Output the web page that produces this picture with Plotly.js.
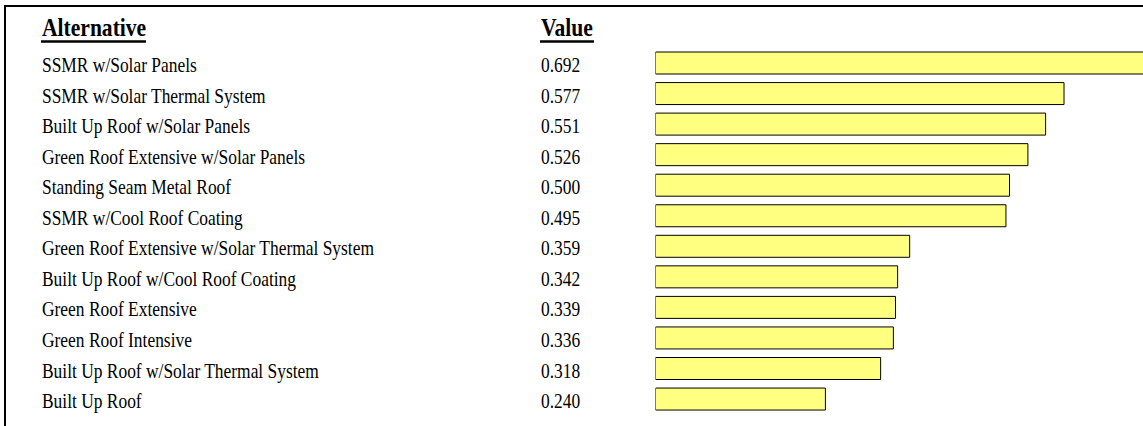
<!DOCTYPE html>
<html><head><meta charset="utf-8">
<script src="https://cdn.plot.ly/plotly-3.0.1.min.js"></script>
<style>html,body{margin:0;padding:0;background:#fff;} #chart{width:1143px;height:426px;}</style>
</head><body><div id="chart"></div>
<script>
const alternatives = [
  'SSMR w/Solar Panels',
  'SSMR w/Solar Thermal System',
  'Built Up Roof w/Solar Panels',
  'Green Roof Extensive w/Solar Panels',
  'Standing Seam Metal Roof',
  'SSMR w/Cool Roof Coating',
  'Green Roof Extensive w/Solar Thermal System',
  'Built Up Roof w/Cool Roof Coating',
  'Green Roof Extensive',
  'Green Roof Intensive',
  'Built Up Roof w/Solar Thermal System',
  'Built Up Roof'
];
const values = [0.692, 0.577, 0.551, 0.526, 0.500, 0.495, 0.359, 0.342, 0.339, 0.336, 0.318, 0.240];
const valueLabels = values.map(v => v.toFixed(3));
const headerName = 'Alternative';
const headerValue = 'Value';

const W = 1143, H = 426;
const px = x => x / W;
const py = y => 1 - y / H;
const FONT = '"Liberation Serif", "Times New Roman", Times, serif';
const rowPitch = 30.55, firstRow = 63;
const yTop = -firstRow / rowPitch, yBottom = (H - firstRow) / rowPitch;
const barZeroPx = 655.5, pxPerUnit = 708;
const NAME_X = 41, VALUE_X = 540;

const trace = {
  type: 'bar', orientation: 'h',
  x: values, y: alternatives,
  width: 0.72,
  marker: {color: '#FFFF80', line: {color: '#000000', width: 1}},
  hoverinfo: 'skip'
};

const annotations = [];
alternatives.forEach((name, i) => {
  annotations.push({xref: 'paper', yref: 'y', x: px(NAME_X), y: name, xanchor: 'left', yanchor: 'middle',
    text: name, showarrow: false, align: 'left', borderpad: 0, yshift: -2,
    font: {family: FONT, size: 21, color: '#000'}});
  annotations.push({xref: 'paper', yref: 'y', x: px(VALUE_X), y: name, xanchor: 'left', yanchor: 'middle',
    text: valueLabels[i], showarrow: false, align: 'left', borderpad: 0, yshift: -2,
    font: {family: FONT, size: 21, color: '#000'}});
});
[[headerName, NAME_X], [headerValue, VALUE_X]].forEach(([t, x]) => {
  annotations.push({xref: 'paper', yref: 'paper', x: px(x), y: py(27.5), xanchor: 'left', yanchor: 'middle',
    text: '<b>' + t + '</b>', showarrow: false, align: 'left', borderpad: 0,
    font: {family: FONT, size: 26, color: '#000'}});
});

const shapes = [
  {type: 'line', xref: 'paper', yref: 'paper', x0: px(5), x1: px(5), y0: py(5), y1: py(H + 5), line: {color: '#000', width: 2}},
  {type: 'line', xref: 'paper', yref: 'paper', x0: px(4), x1: px(W + 5), y0: py(6), y1: py(6), line: {color: '#000', width: 2}},
  {type: 'line', xref: 'paper', yref: 'paper', x0: px(41), x1: px(146), y0: py(41.5), y1: py(41.5), line: {color: '#000', width: 2.5}},
  {type: 'line', xref: 'paper', yref: 'paper', x0: px(540), x1: px(594), y0: py(41.5), y1: py(41.5), line: {color: '#000', width: 2.5}}
];

const layout = {
  width: W, height: H,
  margin: {l: 0, r: 0, t: 0, b: 0, pad: 0},
  paper_bgcolor: '#fff', plot_bgcolor: '#fff',
  showlegend: false,
  xaxis: {domain: [barZeroPx / W, 1], range: [0, (W - barZeroPx) / pxPerUnit], visible: false, fixedrange: true},
  yaxis: {type: 'category', range: [yBottom, yTop], visible: false, fixedrange: true},
  annotations: annotations,
  shapes: shapes
};

Plotly.newPlot('chart', [trace], layout, {staticPlot: true, displayModeBar: false}).then(gd => {
  const s = 0.83;
  gd.querySelectorAll('.annotation-text').forEach(t => {
    const bb = t.getBBox();
    t.setAttribute('transform', 'translate(' + (bb.x * (1 - s)) + ',0) scale(' + s + ',1)');
  });
});
</script>
</body></html>
